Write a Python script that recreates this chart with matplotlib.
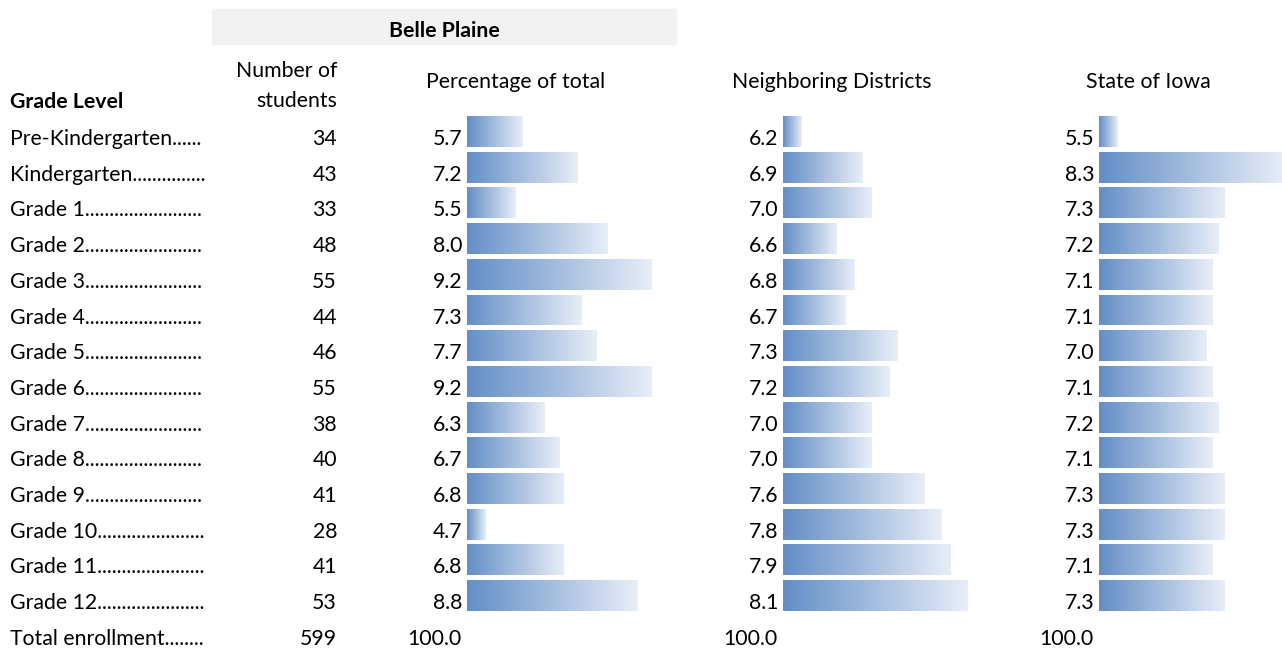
import numpy as np
import matplotlib.pyplot as plt
from matplotlib.patches import Rectangle
from matplotlib.colors import LinearSegmentedColormap

grades = ["Pre-Kindergarten", "Kindergarten", "Grade 1", "Grade 2", "Grade 3", "Grade 4",
          "Grade 5", "Grade 6", "Grade 7", "Grade 8", "Grade 9", "Grade 10", "Grade 11", "Grade 12"]
students = [34, 43, 33, 48, 55, 44, 46, 55, 38, 40, 41, 28, 41, 53]
pct_total = [5.7, 7.2, 5.5, 8.0, 9.2, 7.3, 7.7, 9.2, 6.3, 6.7, 6.8, 4.7, 6.8, 8.8]
neighbors = [6.2, 6.9, 7.0, 6.6, 6.8, 6.7, 7.3, 7.2, 7.0, 7.0, 7.6, 7.8, 7.9, 8.1]
iowa = [5.5, 8.3, 7.3, 7.2, 7.1, 7.1, 7.0, 7.1, 7.2, 7.1, 7.3, 7.3, 7.1, 7.3]
total_label = "Total enrollment"
total_students = 599
total_pct = 100.0

plt.rcParams['font.family'] = ['Lato', 'DejaVu Sans']
FS = 15.3

fig = plt.figure(figsize=(12.82, 6.49), dpi=100)
ax = fig.add_axes([0, 0, 1, 1])
W, H = 1282, 649

pitch = 35.7
base0 = 145          # baseline of first row text
bar_top0 = 116
bar_h = 31
n = len(grades)
baselines = base0 + pitch * np.arange(n + 1)
bar_centers = bar_top0 + bar_h / 2 + pitch * np.arange(n)

cmap = LinearSegmentedColormap.from_list("bar", ["#638ec6", "#e8eef7"])
grad = np.linspace(0, 1, 256).reshape(1, -1)

def data_bars(vals, x0, min_len=18.5, max_len=185):
    # excel style data bars: shortest value gets 10% of the longest bar
    v = np.array(vals)
    lengths = min_len + (v - v.min()) / (v.max() - v.min()) * (max_len - min_len)
    bars = ax.barh(bar_centers, lengths, left=x0, height=bar_h, color='none', linewidth=0)
    for b in bars:
        x, y, w, h = b.get_x(), b.get_y(), b.get_width(), b.get_height()
        im = ax.imshow(grad, cmap=cmap, extent=[x, x + w, y + h, y], aspect='auto',
                       interpolation='bilinear', zorder=1)
        im.set_clip_path(b)

# header
ax.add_patch(Rectangle((212, 9), 464, 35, color='#f2f2f2', zorder=0))
ax.text(444, 37, "Belle Plaine", ha='center', va='baseline', fontsize=FS, fontweight='bold')
ax.text(10, 108, "Grade Level", ha='left', va='baseline', fontsize=FS, fontweight='bold')
ax.text(337, 77, "Number of", ha='right', va='baseline', fontsize=FS)
ax.text(337, 107, "students", ha='right', va='baseline', fontsize=FS)
ax.text(516, 88, "Percentage of total", ha='center', va='baseline', fontsize=FS)
ax.text(832, 88, "Neighboring Districts", ha='center', va='baseline', fontsize=FS)
ax.text(1148, 88, "State of Iowa", ha='center', va='baseline', fontsize=FS)

ax.set_xlim(0, W)
ax.set_ylim(H, 0)
ax.axis('off')

renderer = fig.canvas.get_renderer()
labels = grades + [total_label]
for i, lab in enumerate(labels):
    t = ax.text(10, baselines[i], lab, ha='left', va='baseline', fontsize=FS)
    # pad with dots up to the column edge
    s = lab
    while True:
        t.set_text(s + ".")
        if t.get_window_extent(renderer).x1 > 206:
            t.set_text(s)
            break
        s += "."

for i in range(n):
    ax.text(337, baselines[i], str(students[i]), ha='right', va='baseline', fontsize=FS)
    ax.text(462, baselines[i], f"{pct_total[i]:.1f}", ha='right', va='baseline', fontsize=FS)
    ax.text(778, baselines[i], f"{neighbors[i]:.1f}", ha='right', va='baseline', fontsize=FS)
    ax.text(1094, baselines[i], f"{iowa[i]:.1f}", ha='right', va='baseline', fontsize=FS)
ax.text(337, baselines[n], str(total_students), ha='right', va='baseline', fontsize=FS)
for xr in (462, 778, 1094):
    ax.text(xr, baselines[n], f"{total_pct:.1f}", ha='right', va='baseline', fontsize=FS)

data_bars(pct_total, 467)
data_bars(neighbors, 783)
data_bars(iowa, 1099)

ax.set_xlim(0, W)
ax.set_ylim(H, 0)
fig.savefig("out.png", dpi=100)
